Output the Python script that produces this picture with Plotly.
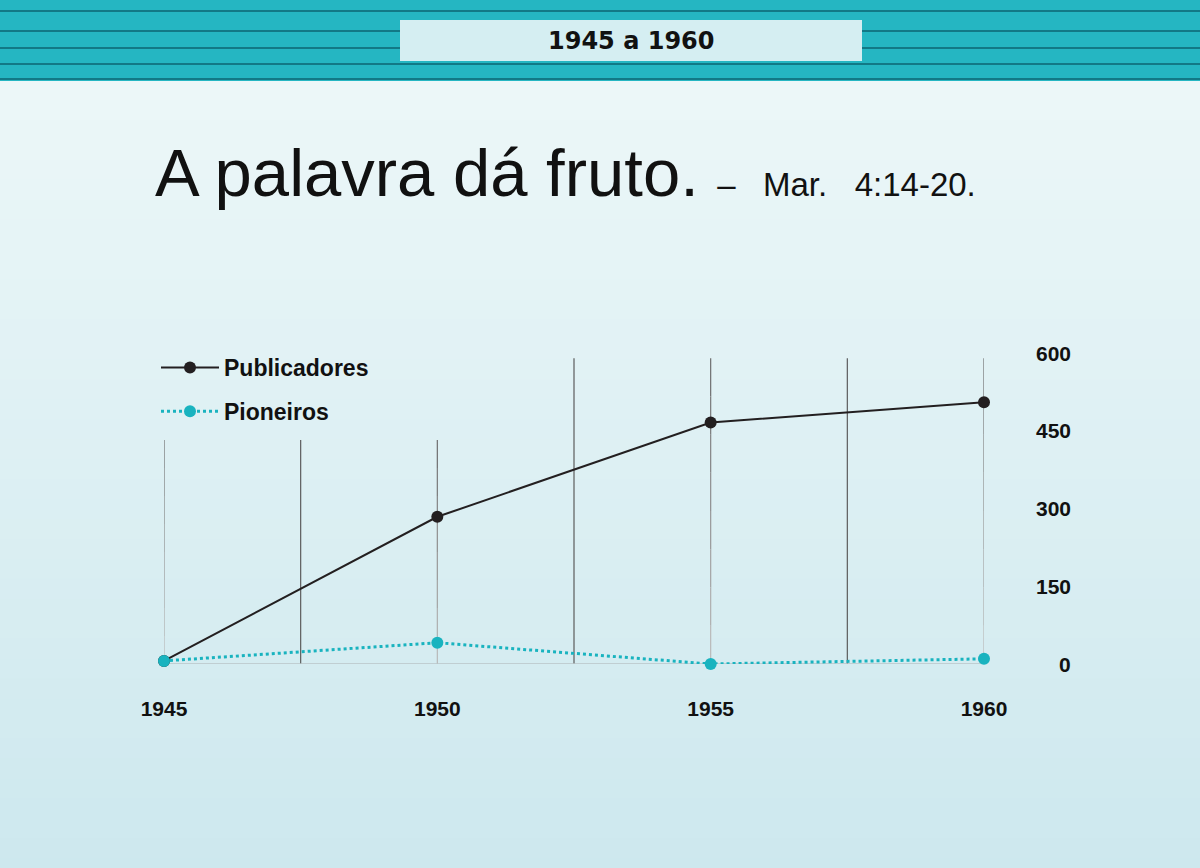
import plotly.graph_objects as go

# ---- data ----
years = [1945, 1950, 1955, 1960]
publicadores = [6, 284, 466, 505]
pioneiros = [6, 41, 0, 10]
y_ticks = [0, 150, 300, 450, 600]
x_ticks = [1945, 1950, 1955, 1960]
grid_x = [1945, 1947.5, 1950, 1952.5, 1955, 1957.5, 1960]

W, H = 1200, 868
BOLD = "Liberation Sans, Arial"
WIDE = "DejaVu Sans, Liberation Sans"
TITLE = "Liberation Sans, Arial"

def px_x(p):
    return p / W

def px_y(p):
    return 1 - p / H

fig = go.Figure()

fig.add_trace(go.Scatter(
    x=years, y=publicadores, name="Publicadores", mode="lines+markers",
    line=dict(color="#231f20", width=2),
    marker=dict(color="#231f20", size=12),
    cliponaxis=False, legendgroup="a", hoverinfo="skip",
))
fig.add_trace(go.Scatter(
    x=years, y=pioneiros, name="Pioneiros", mode="lines+markers",
    line=dict(color="#19b3bf", width=3, dash="dot"),
    marker=dict(color="#19b3bf", size=12),
    cliponaxis=False, legendgroup="b", hoverinfo="skip",
))

shapes = []
# background gradient
top_c = (236, 247, 248)
bot_c = (205, 232, 238)
n = 40
for i in range(n):
    t = i / (n - 1)
    c = tuple(int(round(top_c[k] + (bot_c[k] - top_c[k]) * t)) for k in range(3))
    y0 = 80 + (H + 10 - 80) * i / n
    y1 = 80 + (H + 10 - 80) * (i + 1) / n + 1
    shapes.append(dict(type="rect", xref="paper", yref="paper", layer="below",
                       x0=-0.02, x1=1.02, y0=px_y(y1), y1=px_y(y0),
                       fillcolor="rgb(%d,%d,%d)" % c, line=dict(width=0)))
# header band
shapes.append(dict(type="rect", xref="paper", yref="paper", layer="below",
                   x0=-0.02, x1=1.02, y0=px_y(81), y1=px_y(-2),
                   fillcolor="#25b6c2", line=dict(width=0)))
for yy in [11, 31, 48, 64, 79]:
    shapes.append(dict(type="line", xref="paper", yref="paper", layer="below",
                       x0=-0.02, x1=1.02, y0=px_y(yy), y1=px_y(yy),
                       line=dict(color="rgba(10,95,108,0.7)", width=2)))
shapes.append(dict(type="rect", xref="paper", yref="paper", layer="below",
                   x0=px_x(400), x1=px_x(862), y0=px_y(61), y1=px_y(20),
                   fillcolor="#d5eef2", line=dict(width=0)))
# vertical grid lines
for gx in grid_x:
    top = 432 if gx < 1952 else 590
    if gx in x_ticks:
        m = 8
        for j in range(m):
            a = top * (1 - j / m)
            b = top * (1 - (j + 1) / m)
            g = int(110 + (185 - 110) * j / (m - 1))
            shapes.append(dict(type="line", xref="x", yref="y", layer="below",
                               x0=gx, x1=gx, y0=b, y1=a,
                               line=dict(color="rgb(%d,%d,%d)" % (g, g, g), width=1.2)))
    else:
        shapes.append(dict(type="line", xref="x", yref="y", layer="below",
                           x0=gx, x1=gx, y0=0, y1=top,
                           line=dict(color="#5c5c5c", width=1.2)))
# baseline
shapes.append(dict(type="line", xref="x", yref="y", layer="below",
                   x0=1945, x1=1960, y0=0, y1=0,
                   line=dict(color="#b8c4c7", width=1.5)))

annotations = []
annotations.append(dict(text="<b>1945 a 1960</b>", xref="paper", yref="paper",
                        x=px_x(631), y=px_y(41), showarrow=False,
                        xanchor="center", yanchor="middle",
                        font=dict(family=WIDE, size=24, color="#111")))
annotations.append(dict(
    text="A palavra dá fruto.<span style='font-size:33px'>&nbsp;&nbsp;–&nbsp;&nbsp;&nbsp;Mar.&nbsp;&nbsp;&nbsp;4:14-20.</span>",
    xref="paper", yref="paper", x=px_x(153), y=px_y(212), showarrow=False,
    xanchor="left", yanchor="bottom",
    font=dict(family=TITLE, size=67, color="#111")))
for v in y_ticks:
    annotations.append(dict(text="<b>%d</b>" % v, xref="paper", yref="y",
                            x=px_x(1073), y=v, showarrow=False,
                            xanchor="right", yanchor="middle",
                            font=dict(family=BOLD, size=21, color="#111")))

fig.update_layout(
    width=W, height=H,
    margin=dict(l=0, r=0, t=0, b=0, autoexpand=False),
    paper_bgcolor="#e4f3f5", plot_bgcolor="rgba(0,0,0,0)",
    shapes=shapes, annotations=annotations,
    showlegend=True, hovermode=False,
    legend=dict(x=px_x(156), y=px_y(346), xanchor="left", yanchor="top",
                bgcolor="rgba(0,0,0,0)",
                font=dict(family=BOLD, size=23, color="#111", weight="bold"),
                tracegroupgap=11, itemwidth=58),
    xaxis=dict(domain=[px_x(164), px_x(984)], range=[1945, 1960],
               showgrid=False, zeroline=False, showline=False,
               tickvals=x_ticks, ticktext=[str(t) for t in x_ticks],
               ticks="", ticklabelstandoff=30,
               tickfont=dict(family=BOLD, size=21, color="#111", weight="bold")),
    yaxis=dict(domain=[px_y(664), px_y(353)], range=[0, 600],
               showgrid=False, zeroline=False, showline=False,
               showticklabels=False, ticks=""),
)

fig.write_html("out.html", config={"displayModeBar": False},
               post_script="document.body.style.margin='0';document.body.style.overflow='hidden';window.dispatchEvent(new Event('resize'));")
